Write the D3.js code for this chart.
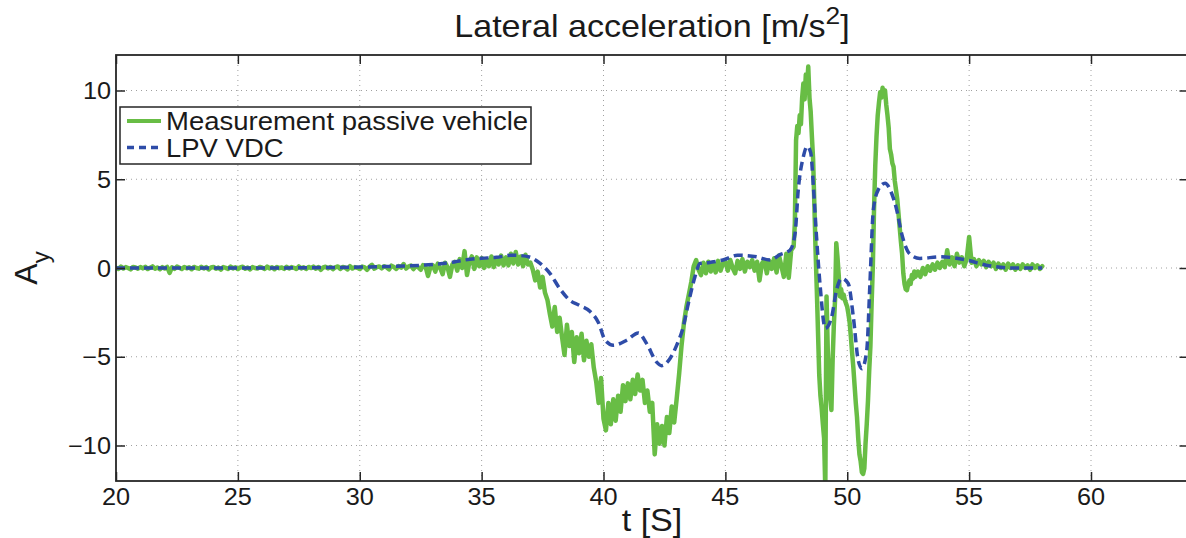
<!DOCTYPE html>
<html>
<head>
<meta charset="utf-8">
<script src="https://cdn.jsdelivr.net/npm/d3@7"></script>
<style>
  html, body { margin: 0; padding: 0; background: #fff; }
  svg { display: block; }
  text { font-family: "Liberation Sans", Arial, Helvetica, sans-serif; fill: #1a1a1a; }
</style>
</head>
<body>
<svg id="chart" width="1186" height="538"></svg>
<script>
// Axis ranges and tick labels
const xTicks = [20, 25, 30, 35, 40, 45, 50, 55, 60];
const yTicks = [-10, -5, 0, 5, 10];
const xRange = [20, 64];
const yRange = [-12, 12];

// Measured lateral acceleration, sampled in three blocks (start time, step)
const blockStart = [20.0, 47.8, 52.9];
const blockStep = [0.1, 0.05, 0.1];

// 20.0 s – 47.7 s, every 0.1 s
const measuredCruise = [
  0.02,-0.05,0.08,-0.03,0.05,0.00,-0.08,0.06,0.03,-0.04,
  0.05,-0.02,0.07,-0.06,0.02,0.09,-0.04,0.03,-0.07,0.05,
  -0.03,0.06,-0.28,0.04,-0.05,0.08,0.01,-0.06,0.05,-0.02,
  0.04,-0.07,0.06,0.00,-0.04,0.07,-0.03,0.05,-0.08,0.03,
  0.06,-0.04,0.02,-0.09,0.05,0.01,-0.05,0.08,-0.02,0.04,
  -0.06,0.03,0.07,-0.04,0.02,-0.08,0.05,0.00,-0.03,0.06,
  0.02,-0.05,0.08,-0.02,0.04,-0.07,0.06,-0.01,0.03,-0.05,
  0.07,-0.03,0.05,0.01,-0.06,0.09,-0.02,0.04,-0.05,0.06,
  0.00,0.08,-0.04,0.05,-0.10,0.03,0.07,-0.02,0.06,-0.06,
  0.04,0.09,-0.05,0.06,0.02,-0.08,0.10,-0.03,0.05,0.01,
  -0.06,0.08,0.03,-0.10,0.07,0.18,-0.04,0.05,0.09,-0.02,
  0.10,0.04,-0.08,0.13,0.06,-0.05,0.11,0.02,0.22,-0.03,
  0.08,0.14,-0.06,0.10,0.04,-0.10,0.16,0.07,-0.45,0.05,
  0.15,-0.20,0.25,0.00,-0.35,0.30,0.05,-0.50,0.20,0.35,
  -0.15,0.50,0.00,0.95,-0.40,0.35,0.65,-0.05,0.60,0.10,
  0.55,0.00,0.50,0.10,0.65,0.05,0.55,0.20,0.70,0.15,
  0.60,0.15,0.80,0.25,0.90,0.20,0.65,0.10,0.75,0.20,
  0.30,-0.10,-0.70,-0.20,-1.10,-0.50,-1.40,-1.80,-2.60,-3.30,
  -2.20,-3.60,-2.80,-3.90,-4.90,-3.20,-4.40,-3.60,-5.30,-3.90,
  -4.80,-3.70,-5.20,-4.10,-5.00,-4.30,-5.60,-6.40,-7.60,-6.20,
  -8.50,-9.15,-7.60,-8.80,-7.40,-8.60,-7.20,-8.10,-6.60,-7.50,
  -6.50,-7.40,-6.30,-7.10,-6.00,-6.90,-6.30,-7.60,-6.90,-8.10,
  -7.60,-10.50,-8.80,-9.90,-8.90,-10.00,-8.40,-9.30,-7.80,-8.70,
  -7.40,-6.00,-4.40,-3.10,-2.20,-1.50,-0.80,0.10,0.45,-0.10,
  -0.40,0.30,-0.30,0.35,-0.20,0.30,-0.25,0.40,-0.15,0.25,
  0.35,-0.15,0.45,0.00,-0.30,0.40,-0.05,0.50,-0.20,0.35,
  0.05,0.45,-0.15,0.35,-0.70,0.25,0.45,-0.30,0.40,-0.05,
  0.55,-0.25,0.70,0.10,-0.50,0.80,-0.55,1.00
];

// 47.8 s – 52.8 s, every 0.05 s
const measuredSlalom = [
  1.2, 2.5, 7.2, 8.0, 7.6, 8.6, 8.1, 9.6, 10.4, 9.5,
  10.9, 10.2, 11.35, 9.6, 8.8, 7.4, 6.1, 3.6, 1.0, -1.2,
  -3.6, -6.0, -7.2, -7.9, -8.8, -9.6, -12.5, -1.6, -4.6, -6.2,
  -7.3, -8.0, -5.2, -3.2, -1.8, 1.4, 0.6, -0.4, -1.6, -1.2,
  -1.7, -1.5, -1.8, -2.0, -2.2, -2.6, -3.1, -3.9, -4.8, -5.6,
  -6.6, -7.6, -8.4, -9.6, -10.5, -10.9, -11.5, -11.6, -11.3, -9.9,
  -8.8, -7.5, -5.8, -4.4, -2.0, 0.1, 3.4, 5.8, 7.4, 8.6,
  9.3, 9.9, 9.6, 10.15, 9.8, 10.0, 9.2, 8.6, 7.9, 6.7,
  6.4, 5.9, 5.7, 4.9, 4.4, 3.9, 3.1, 2.3, 1.5, 0.8,
  -0.3, -0.9, -1.2, -1.25, -0.9, -0.7, -0.9, -0.4, -0.6, -0.2,
  -0.5
];

// 52.9 s – 58.0 s, every 0.1 s
const measuredSettle = [
  -0.2, -0.5, 0.0, -0.35, 0.1, -0.15, 0.2, -0.1, 0.3, 0.0,
  0.35, 0.05, 1.0, 0.2, 0.6, 0.1, 0.8, 0.3, 0.6, 0.1,
  0.5, 1.75, 0.3, 0.5, 0.1, 0.45, 0.2, 0.4, 0.05, 0.35,
  0.1, 0.3, -0.05, 0.25, 0.0, 0.2, -0.1, 0.25, 0.0, 0.2,
  -0.1, 0.15, -0.05, 0.2, 0.0, 0.15, -0.1, 0.2, 0.0, 0.15,
  -0.05, 0.1
];

// Simulated response with the LPV vehicle dynamics controller
const vdcTime = [20, 22, 24, 26, 28, 30, 31, 32, 33, 33.7, 34.3, 35.0, 35.6, 36.2, 36.6, 37.0,
  37.4, 37.8, 38.2, 38.6, 39.0, 39.45, 39.8, 40.06, 40.4, 40.95, 41.43, 41.77, 42.18, 42.38,
  42.73, 43.0, 43.27, 43.48, 43.75, 43.96, 44.3, 44.9, 45.5, 46.28, 46.83, 47.24, 47.65, 47.86,
  47.99, 48.2, 48.36, 48.5, 48.62, 48.74, 48.88, 49.1, 49.36, 49.56, 49.77, 50.04, 50.25, 50.45,
  50.6, 50.8, 50.93, 51.07, 51.27, 51.55, 51.82, 52.03, 52.23, 52.57, 52.98, 53.8, 54.9, 55.7,
  56.8, 58.0];
const vdcAy = [0, 0, 0, 0, 0.02, 0.05, 0.08, 0.12, 0.2, 0.3, 0.45, 0.55, 0.6, 0.72, 0.7, 0.6,
  0.26, -0.3, -1.15, -1.8, -2.1, -2.45, -3.1, -4.05, -4.35, -4.07, -3.66, -4.26, -5.3, -5.5,
  -5.1, -4.36, -3.32, -2.0, -0.5, 0.26, 0.3, 0.45, 0.72, 0.63, 0.45, 0.75, 1.0, 1.95,
  4.4, 6.28, 6.85, 6.5, 4.4, 1.76, -0.87, -3.4, -2.76, -1.25, -0.59, -0.87, -2.76, -5.2,
  -5.67, -4.64, -0.87, 3.27, 4.4, 4.78, 4.21, 3.27, 1.95, 0.78, 0.54, 0.63, 0.45, 0.16,
  0.0, 0.0];

const seriesNames = ["Measurement passive vehicle", "LPV VDC"];

// ---- layout ----
const W = 1186, H = 538;
const plot = { left: 116, right: 1188.5, top: 55, bottom: 481 };
const greenColor = "#68bd45";
const blueColor = "#2e4ca8";
const axisColor = "#262626";
const textStretch = 1.1;

const svg = d3.select("#chart");
svg.append("rect").attr("width", W).attr("height", H).attr("fill", "#fff");

const x = d3.scaleLinear().domain(xRange).range([plot.left, plot.right]);
const y = d3.scaleLinear().domain(yRange).range([plot.bottom, plot.top]);

// measured samples -> [t, a]
const measured = [];
[measuredCruise, measuredSlalom, measuredSettle].forEach((block, b) => {
  block.forEach((a, i) => {
    measured.push([+(blockStart[b] + i * blockStep[b]).toFixed(3), a]);
  });
});
const vdc = vdcTime.map((t, i) => [t, vdcAy[i]]);

// grid
const grid = svg.append("g").attr("stroke", "#a0a0a0").attr("stroke-width", 1)
  .attr("stroke-dasharray", "1,4");
grid.selectAll("line.gx").data(xTicks.filter(t => t > xRange[0])).join("line")
  .attr("x1", d => x(d)).attr("x2", d => x(d))
  .attr("y1", plot.top).attr("y2", plot.bottom);
grid.selectAll("line.gy").data(yTicks).join("line")
  .attr("y1", d => y(d)).attr("y2", d => y(d))
  .attr("x1", plot.left).attr("x2", plot.right);

// clip for data
svg.append("clipPath").attr("id", "plotClip").append("rect")
  .attr("x", plot.left).attr("y", plot.top)
  .attr("width", plot.right - plot.left).attr("height", plot.bottom - plot.top);

const lineLinear = d3.line().x(d => x(d[0])).y(d => y(d[1]));
const lineSmooth = d3.line().x(d => x(d[0])).y(d => y(d[1])).curve(d3.curveMonotoneX);

const dataG = svg.append("g").attr("clip-path", "url(#plotClip)");
dataG.append("path").datum(measured)
  .attr("d", lineLinear)
  .attr("fill", "none").attr("stroke", greenColor).attr("stroke-width", 4.5)
  .attr("stroke-linejoin", "round").attr("stroke-linecap", "round");
dataG.append("path").datum(vdc)
  .attr("d", lineSmooth)
  .attr("fill", "none").attr("stroke", blueColor).attr("stroke-width", 3.5)
  .attr("stroke-dasharray", "9,5");

// axes (box with inward ticks on all sides)
const fmt = d => d < 0 ? "\u2212" + Math.abs(d) : String(d);
const axG = svg.append("g");
const tickLen = 9;
const bottomAxis = d3.axisBottom(x).tickValues(xTicks).tickSize(-tickLen).tickFormat("");
const topAxis = d3.axisTop(x).tickValues(xTicks).tickSize(-tickLen).tickFormat("");
const leftAxis = d3.axisLeft(y).tickValues(yTicks).tickSize(-tickLen).tickFormat("");
const rightAxis = d3.axisRight(y).tickValues(yTicks).tickSize(-tickLen).tickFormat("");

function styleAxis(g) {
  g.select(".domain").remove();
  g.selectAll(".tick line").attr("stroke", axisColor).attr("stroke-width", 1.5);
}
axG.append("g").attr("transform", `translate(0,${plot.bottom})`).call(bottomAxis).call(styleAxis);
axG.append("g").attr("transform", `translate(0,${plot.top})`).call(topAxis).call(styleAxis);
axG.append("g").attr("transform", `translate(${plot.left},0)`).call(leftAxis).call(styleAxis);
axG.append("g").attr("transform", `translate(${plot.right},0)`).call(rightAxis).call(styleAxis);

axG.append("rect")
  .attr("x", plot.left).attr("y", plot.top)
  .attr("width", plot.right - plot.left).attr("height", plot.bottom - plot.top)
  .attr("fill", "none").attr("stroke", axisColor).attr("stroke-width", 1.8);

// tick labels
const labG = svg.append("g");
labG.selectAll("text.xl").data(xTicks).join("text")
  .attr("transform", d => `translate(${x(d)},505) scale(${textStretch},1)`)
  .attr("text-anchor", "middle").attr("font-size", 23)
  .text(fmt);
labG.selectAll("text.yl").data(yTicks).join("text")
  .attr("transform", d => `translate(111,${y(d) + 8.5}) scale(${textStretch},1)`)
  .attr("text-anchor", "end").attr("font-size", 23)
  .text(fmt);

// title
const title = svg.append("text")
  .attr("transform", `translate(652,37) scale(${textStretch},1)`)
  .attr("text-anchor", "middle").attr("font-size", 31);
title.append("tspan").text("Lateral acceleration [m/s");
title.append("tspan").attr("font-size", 24).attr("dy", -13).text("2");
title.append("tspan").attr("dy", 13).text("]");

// axis labels
svg.append("text")
  .attr("transform", `translate(652,531) scale(${textStretch},1)`)
  .attr("text-anchor", "middle").attr("font-size", 31)
  .text("t [S]");
const yl = svg.append("text")
  .attr("transform", `translate(37,268) rotate(-90)`)
  .attr("text-anchor", "middle").attr("font-size", 32);
yl.append("tspan").text("A");
yl.append("tspan").attr("font-size", 24).attr("dy", 12).text("y");

// legend
const leg = svg.append("g");
leg.append("rect").attr("x", 120).attr("y", 107).attr("width", 411).attr("height", 57)
  .attr("fill", "#fff").attr("stroke", axisColor).attr("stroke-width", 1.5);
const legRows = [
  { name: seriesNames[0], color: greenColor, dash: null, w: 4, baseline: 130 },
  { name: seriesNames[1], color: blueColor, dash: "7,5", w: 3.5, baseline: 156.5 }
];
legRows.forEach(r => {
  leg.append("line").attr("x1", 127).attr("x2", 161)
    .attr("y1", r.baseline - 9).attr("y2", r.baseline - 9)
    .attr("stroke", r.color).attr("stroke-width", r.w)
    .attr("stroke-dasharray", r.dash);
  leg.append("text")
    .attr("transform", `translate(166,${r.baseline}) scale(${textStretch},1)`)
    .attr("font-size", 25).text(r.name);
});
</script>
</body>
</html>
